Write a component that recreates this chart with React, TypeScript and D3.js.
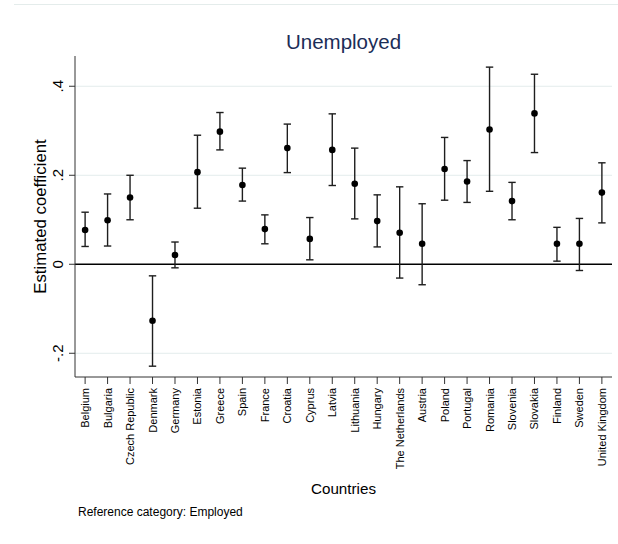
import React from "react";
import * as d3 from "d3";

const countries = [
  "Belgium", "Bulgaria", "Czech Republic", "Denmark", "Germany", "Estonia",
  "Greece", "Spain", "France", "Croatia", "Cyprus", "Latvia", "Lithuania",
  "Hungary", "The Netherlands", "Austria", "Poland", "Portugal", "Romania",
  "Slovenia", "Slovakia", "Finland", "Sweden", "United Kingdom",
];
const estimates = [
  0.077, 0.099, 0.150, -0.127, 0.021, 0.207, 0.298, 0.178, 0.079, 0.261,
  0.057, 0.257, 0.181, 0.097, 0.071, 0.046, 0.214, 0.186, 0.303, 0.142,
  0.339, 0.046, 0.046, 0.161,
];
const upper = [
  0.117, 0.158, 0.200, -0.026, 0.050, 0.290, 0.341, 0.216, 0.111, 0.315,
  0.105, 0.338, 0.261, 0.156, 0.174, 0.136, 0.285, 0.233, 0.443, 0.184,
  0.427, 0.083, 0.103, 0.228,
];
const lower = [
  0.040, 0.041, 0.100, -0.229, -0.008, 0.126, 0.257, 0.142, 0.046, 0.206,
  0.010, 0.177, 0.102, 0.039, -0.031, -0.046, 0.144, 0.139, 0.164, 0.100,
  0.251, 0.007, -0.014, 0.093,
];
const yTicks = [-0.2, 0, 0.2, 0.4];
const yTickLabels = ["-.2", "0", ".2", ".4"];
const titleText = "Unemployed";
const yTitle = "Estimated coefficient";
const xTitle = "Countries";
const noteText = "Reference category: Employed";

const W = 618;
const H = 544;
const left = 75;
const right = 612;
const top = 56;
const bottom = 377;
const font = "'Liberation Sans', Arial, Helvetica, sans-serif";

export default function App() {
  const x = d3.scalePoint<string>().domain(countries).range([left, right]).padding(0.45);
  const y = d3.scaleLinear().domain([-0.2533, 0.468]).range([bottom, top]);
  const cx = (left + right) / 2;
  const cy = (top + bottom) / 2;
  const cap = 3.7;
  return (
    <svg width={W} height={H} style={{ position: "absolute", left: 0, top: 0, background: "#fff" }}>
      <rect x={0} y={0} width={W} height={H} fill="#fff" />
      <line x1={14} x2={W} y1={4.5} y2={4.5} stroke="#e4eceb" strokeWidth={1} />
      {/* gridlines */}
      {yTicks.filter((t) => t !== 0).map((t) => (
        <line key={"g" + t} x1={left} x2={right} y1={y(t)} y2={y(t)} stroke="#e3ecec" strokeWidth={1} />
      ))}
      {/* zero line */}
      <line x1={left} x2={right} y1={y(0)} y2={y(0)} stroke="#000" strokeWidth={1.4} />
      {/* axes */}
      <line x1={left} x2={left} y1={top} y2={bottom} stroke="#333" strokeWidth={1} />
      <line x1={left} x2={right} y1={bottom} y2={bottom} stroke="#333" strokeWidth={1} />
      {yTicks.map((t, i) => (
        <g key={"yt" + t}>
          <line x1={left - 6} x2={left} y1={y(t)} y2={y(t)} stroke="#333" strokeWidth={1} />
          <text
            transform={`translate(${62.5},${y(t)}) rotate(-90)`}
            textAnchor="middle"
            fontFamily={font}
            fontSize={15}
            fill="#000"
          >
            {yTickLabels[i]}
          </text>
        </g>
      ))}
      {countries.map((c) => (
        <g key={"xt" + c}>
          <line x1={x(c)!} x2={x(c)!} y1={bottom} y2={bottom + 7} stroke="#333" strokeWidth={1} />
          <text
            transform={`translate(${x(c)! + 4},${bottom + 11}) rotate(-90)`}
            textAnchor="end"
            fontFamily={font}
            fontSize={11}
            fill="#000"
          >
            {c}
          </text>
        </g>
      ))}
      {/* error bars */}
      {countries.map((c, i) => {
        const xx = x(c)!;
        return (
          <g key={"e" + c} stroke="#1e1e1e" strokeWidth={1.4}>
            <line x1={xx} x2={xx} y1={y(upper[i])} y2={y(lower[i])} />
            <line x1={xx - cap} x2={xx + cap} y1={y(upper[i])} y2={y(upper[i])} />
            <line x1={xx - cap} x2={xx + cap} y1={y(lower[i])} y2={y(lower[i])} />
          </g>
        );
      })}
      {countries.map((c, i) => (
        <circle key={"p" + c} cx={x(c)!} cy={y(estimates[i])} r={3.3} fill="#000" />
      ))}
      <text x={cx} y={49} textAnchor="middle" fontFamily={font} fontSize={20.5} fill="#1c2d57">
        {titleText}
      </text>
      <text
        transform={`translate(${45.5},${cy}) rotate(-90)`}
        textAnchor="middle"
        fontFamily={font}
        fontSize={16.8}
        fill="#000"
      >
        {yTitle}
      </text>
      <text x={cx} y={494} textAnchor="middle" fontFamily={font} fontSize={15.2} fill="#000">
        {xTitle}
      </text>
      <text x={78} y={516} fontFamily={font} fontSize={12} fill="#000">
        {noteText}
      </text>
    </svg>
  );
}
